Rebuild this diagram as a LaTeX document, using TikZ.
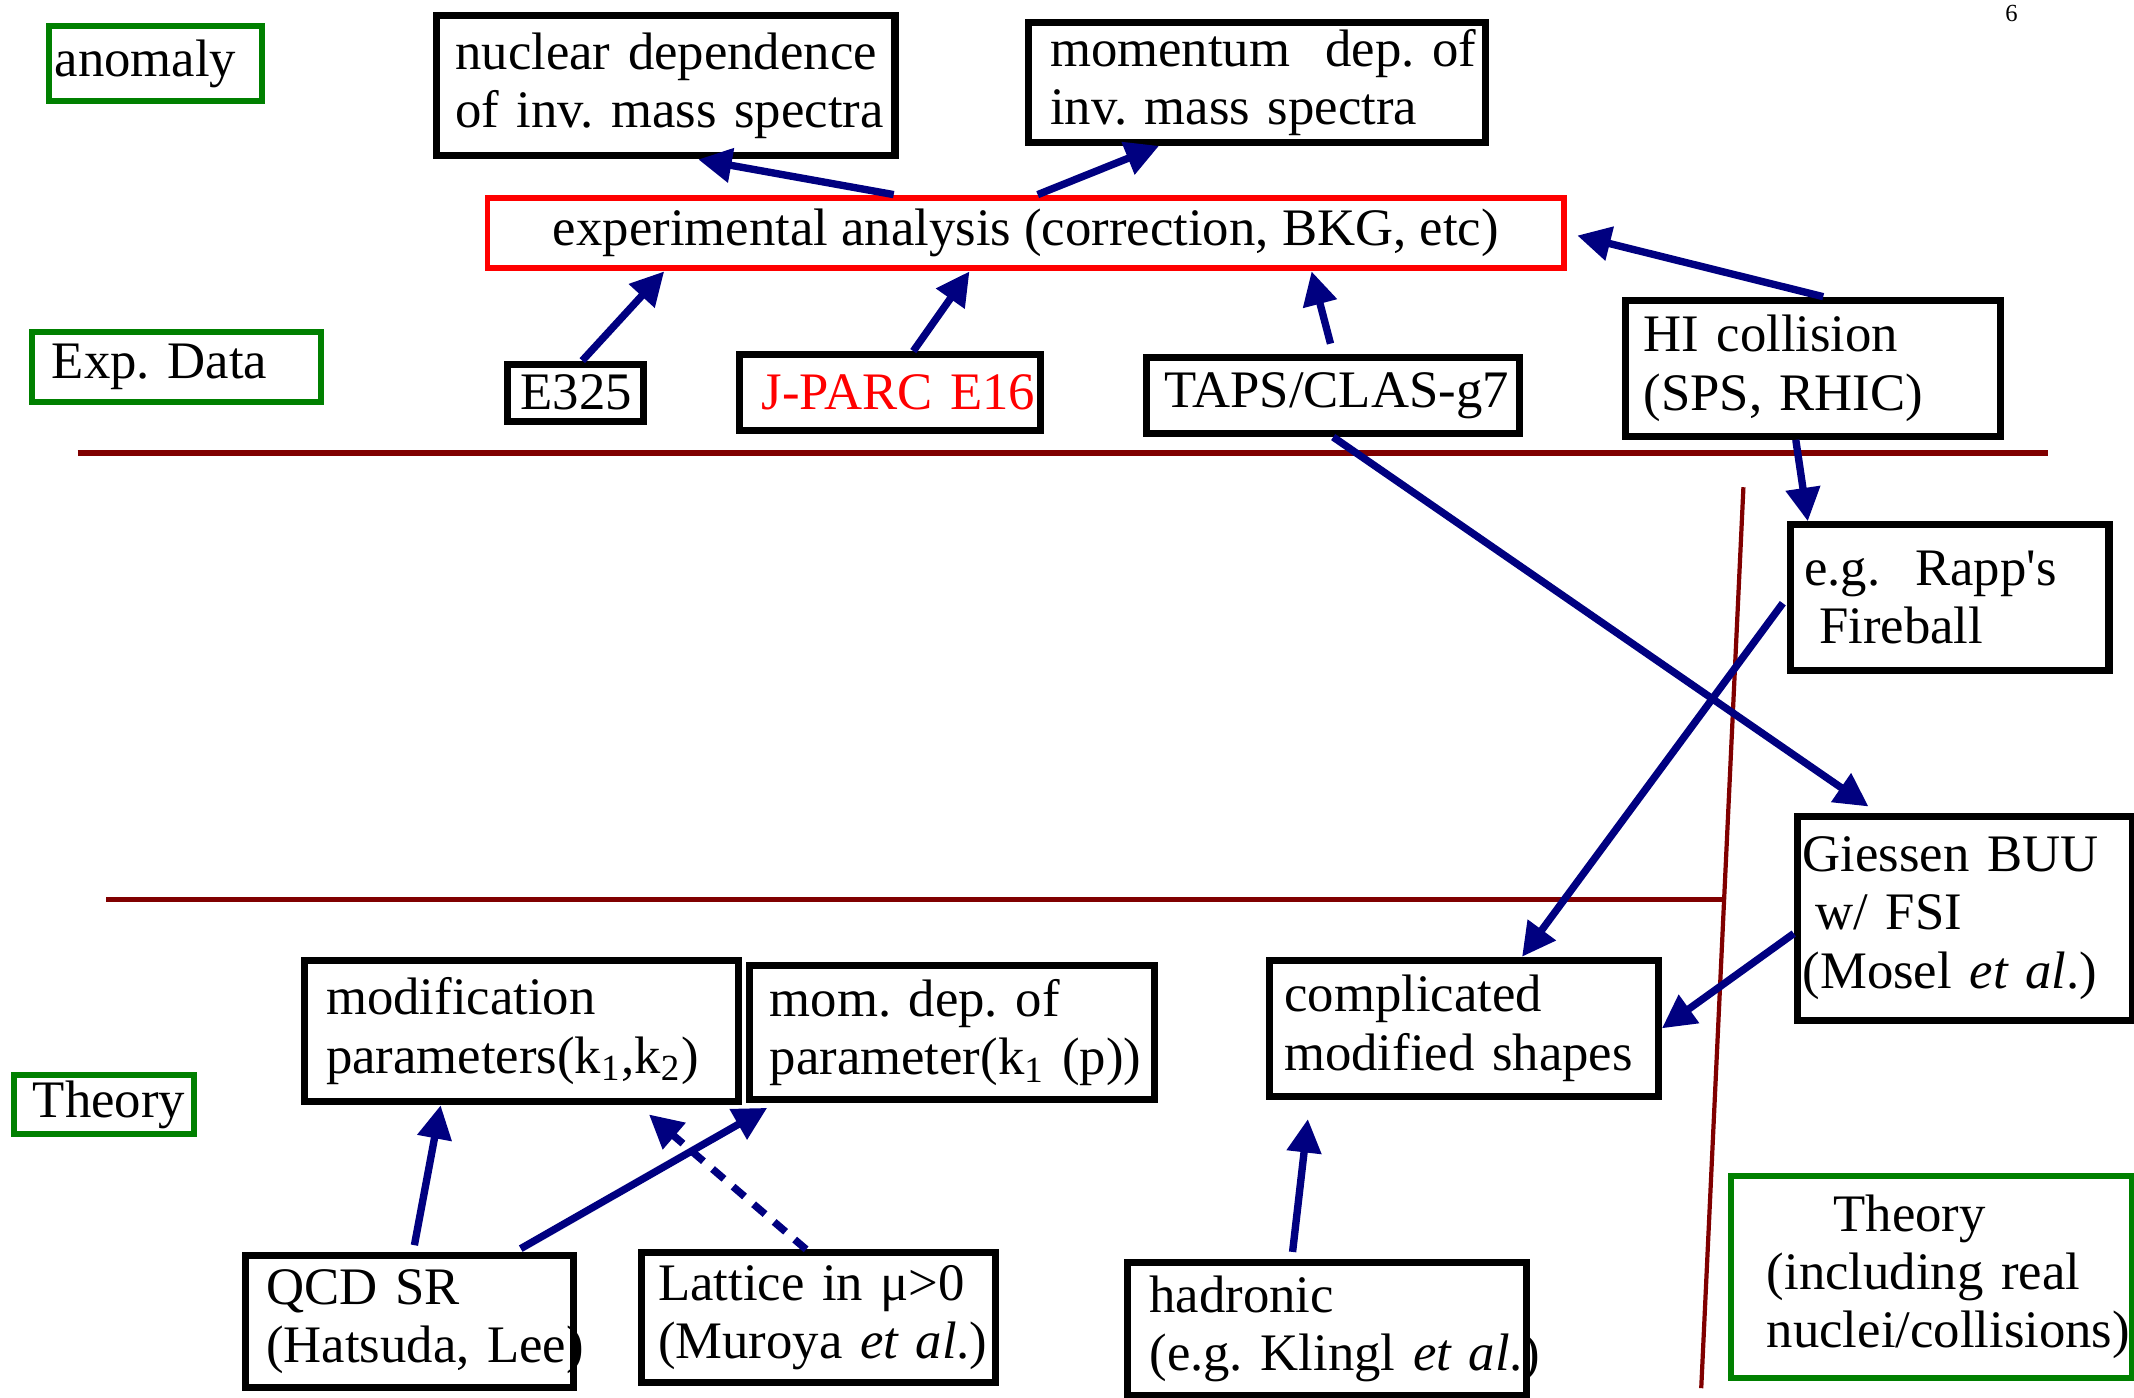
\documentclass[tikz,border=0pt]{standalone}
\usepackage{fontspec}
\setmainfont{Liberation Serif}
\usetikzlibrary{arrows.meta,calc}
\definecolor{navy}{HTML}{000080}
\definecolor{dred}{HTML}{800000}
\definecolor{dgreen}{HTML}{008000}
\tikzset{>={Triangle[length=9.5pt,width=9.5pt]}}
\tikzstyle{box}=[draw,line width=2pt,align=left,anchor=north west,inner ysep=1pt,font=\fontsize{15}{16.6}\selectfont\frenchspacing]
\tikzstyle{tag}=[box,draw=dgreen,line width=1.7pt]
\tikzstyle{link}=[->,navy,line width=2.1pt]
\tikzstyle{cut}=[dred,line width=1.6pt]

\begin{document}
\begin{tikzpicture}[x=0.01361cm,y=-0.01361cm]
  \useasboundingbox (0,0) rectangle (1568,1027);
  % dividing lines
  \draw[cut] (57,333) -- (1505,333);
  \draw[cut] (78,661) -- (1267,661);
  \draw[cut,line width=1.2pt] (1281,358) -- (1250,1020);
  % top row
  \node[tag,text width=2.015cm,inner xsep=0.054cm,minimum height=0.749cm] (anom) at (34,17) {\mbox{anomaly}};
  \node[box,text width=4.207cm,inner xsep=0.19cm,minimum height=1.402cm] (nuc) at (318,9) {\mbox{nuclear dependence}\\\mbox{of inv. mass spectra}};
  \node[box,text width=4.137cm,inner xsep=0.218cm,minimum height=1.198cm] (mom) at (753,14) {\mbox{momentum~~dep. of}\\\mbox{inv. mass spectra}};
  \node[font=\fontsize{7}{8}\selectfont] (page) at (1478,10) {6};
  \node[box,draw=red,line width=1.7pt,minimum width=10.766cm,minimum height=0.708cm] (ana) at (356,143) {experimental analysis (correction, BKG, etc)};
  % experiments
  \node[tag,text width=2.491cm,inner xsep=0.204cm,minimum height=0.694cm] (exp) at (21,242) {\mbox{Exp. Data}};
  \node[box,text width=1.089cm,inner xsep=0.136cm,minimum height=0.572cm] (e325) at (370,265) {\mbox{E325}};
  \node[box,text width=2.572cm,inner xsep=0.218cm,minimum height=0.762cm,text=red] (jparc) at (541,258) {\mbox{J-PARC E16}};
  \node[box,text width=3.375cm,inner xsep=0.177cm,minimum height=0.762cm] (taps) at (840,260) {\mbox{TAPS/CLAS-g7}};
  \node[box,text width=3.389cm,inner xsep=0.177cm,minimum height=1.361cm] (hi) at (1192,218) {\mbox{HI collision}\\\mbox{(SPS, RHIC)}};
  % models
  \node[box,text width=2.913cm,inner xsep=0.136cm,minimum height=1.456cm] (rapp) at (1313,383) {\mbox{e.g.~~Rapp\textquotesingle s}\\\mbox{\hspace*{0.15cm}Fireball}};
  \node[box,text width=3.24cm,inner xsep=0.054cm,minimum height=2.042cm] (buu) at (1318,597) {\mbox{Giessen BUU}\\\mbox{\hspace*{0.13cm}w/ FSI}\\\mbox{(Mosel \textit{et al}.)}};
  % theory
  \node[box,text width=3.906cm,inner xsep=0.218cm,minimum height=1.415cm] (modp) at (221,703) {\mbox{modification}\\\mbox{parameters(k\textsubscript{1},k\textsubscript{2})}};
  \node[box,text width=3.648cm,inner xsep=0.204cm,minimum height=1.334cm] (momp) at (548,707) {\mbox{mom. dep. of}\\\mbox{parameter(k\textsubscript{1} (p))}};
  \node[box,text width=3.592cm,inner xsep=0.15cm,minimum height=1.361cm] (shape) at (930,703) {\mbox{complicated}\\\mbox{modified shapes}};
  \node[tag,text width=1.417cm,inner xsep=0.19cm,minimum height=0.585cm] (theo) at (8,788) {\mbox{Theory}};
  \node[box,text width=2.872cm,inner xsep=0.204cm,minimum height=1.32cm] (qcd) at (178,920) {\mbox{QCD SR}\\\mbox{(Hatsuda, Lee)}};
  \node[box,text width=3.213cm,inner xsep=0.163cm,minimum height=1.293cm] (latt) at (469,918) {\mbox{Lattice in μ>0}\\\mbox{(Muroya \textit{et al}.)}};
  \node[box,text width=3.552cm,inner xsep=0.218cm,minimum height=1.334cm] (hadr) at (826,925) {\mbox{hadronic}\\\mbox{(e.g. Klingl \textit{et al}.)}};
  \node[tag,text width=3.293cm,inner xsep=0.354cm,minimum height=2.014cm] (theor) at (1270,862) {\mbox{\hspace*{0.667cm}Theory}\\\mbox{(including real}\\\mbox{nuclei/collisions)}};
  % arrows
  \draw[link] ($(ana.north west)!.378!(ana.north east)$) -- ($(nuc.south west)!.57!(nuc.south east)$);
  \draw[link] ($(ana.north west)!.511!(ana.north east)$) -- ($(mom.south west)!.289!(mom.south east)$);
  \draw[link] ($(e325.north west)!.55!(e325.north east)$) -- ($(ana.south west)!.166!(ana.south east)$);
  \draw[link] ($(jparc.north west)!.575!(jparc.north east)$) -- ($(ana.south west)!.448!(ana.south east)$);
  \draw[link,shorten <=3pt] (taps.north) -- ($(ana.south west)!.764!(ana.south east)$);
  \draw[link,shorten >=3pt] ($(hi.north west)!.527!(hi.north east)$) -- (ana.east);
  \draw[link] ($(hi.south west)!.455!(hi.south east)$) -- ($(rapp.north west)!.064!(rapp.north east)$);
  \draw[link,shorten >=3pt] (taps.south) -- ($(buu.north west)!.244!(buu.north east)$);
  \draw[link,shorten <=2pt] (rapp.west) -- ($(shape.north west)!.647!(shape.north east)$);
  \draw[link] ($(buu.north west)!.573!(buu.south west)$) -- (shape.east);
  \draw[link,shorten >=5.5pt,shorten <=2pt] ($(hadr.north west)!.413!(hadr.north east)$) -- ($(shape.south west)!.112!(shape.south east)$);
  \draw[link,shorten <=2pt] ($(qcd.north west)!.51!(qcd.north east)$) -- ($(modp.south west)!.317!(modp.south east)$);
  \draw[link,shorten <=2pt,shorten >=3pt] ($(qcd.north west)!.813!(qcd.north east)$) -- ($(momp.south west)!.074!(momp.south east)$);
  \draw[link,dash pattern=on 4.3pt off 3.4pt,shorten >=4pt] ($(latt.north west)!.465!(latt.north east)$) -- ($(modp.south west)!.765!(modp.south east)$);
\end{tikzpicture}
\end{document}
